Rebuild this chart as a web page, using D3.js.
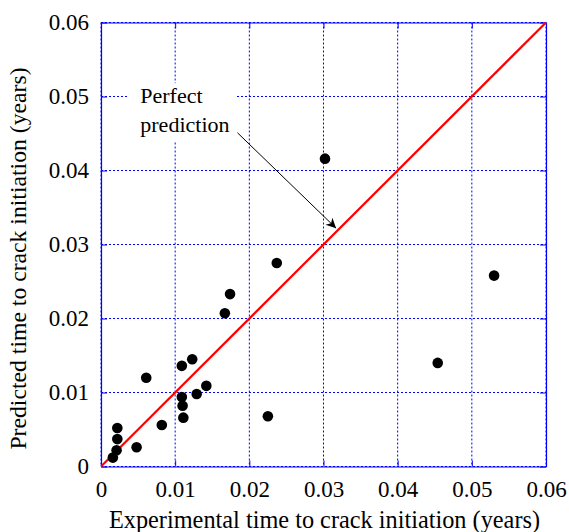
<!DOCTYPE html>
<html><head><meta charset="utf-8">
<script src="https://cdn.jsdelivr.net/npm/d3@7"></script>
<style>
html,body{margin:0;padding:0;background:#fff;}
svg text{font-family:"Liberation Serif","Times New Roman",Times,"Nimbus Roman","DejaVu Serif",serif !important;fill:#000;}
</style></head>
<body><svg id="chart" width="569" height="532"></svg>
<script>
const experimental = [0.0302, 0.0237, 0.0174, 0.0167, 0.0530, 0.0454, 0.0225, 0.0061, 0.0109, 0.0123, 0.0142, 0.0129, 0.0109, 0.0110, 0.0111, 0.0082, 0.0048, 0.0022, 0.0022, 0.0021, 0.0016];
const predicted    = [0.0416, 0.0275, 0.0233, 0.0207, 0.0258, 0.0140, 0.0068, 0.0120, 0.0136, 0.0145, 0.0109, 0.0098, 0.0094, 0.0082, 0.0066, 0.0056, 0.0026, 0.0052, 0.0037, 0.0022, 0.0012];
const xTicks = [0, 0.01, 0.02, 0.03, 0.04, 0.05, 0.06];
const yTicks = [0, 0.01, 0.02, 0.03, 0.04, 0.05, 0.06];
const tickLabels = ["0", "0.01", "0.02", "0.03", "0.04", "0.05", "0.06"];
const perfectLine = [0, 0.06];
const annotationLines = ["Perfect", "prediction"];
const annotationText = [0.0053, 0.0491];
const arrowFrom = [0.0184, 0.0451];
const arrowTo = [0.0317, 0.0322];
const xTitle = "Experimental time to crack initiation (years)";
const yTitle = "Predicted time to crack initiation (years)";

const FONT = '"Liberation Serif","Times New Roman",Times,"Nimbus Roman","DejaVu Serif",serif';
const svg = d3.select("#chart");
const L = 101, T = 22.5, W = 445, H = 444;
const x = d3.scaleLinear().domain([0, 0.06]).range([L, L + W]);
const y = d3.scaleLinear().domain([0, 0.06]).range([T + H, T]);
const blue = "#0000ff";

// grid
const g = svg.append("g");
g.selectAll(".vg").data(xTicks).join("line")
  .attr("x1", d => x(d)).attr("x2", d => x(d)).attr("y1", T).attr("y2", T + H)
  .attr("stroke", blue).attr("stroke-width", 1).attr("stroke-dasharray", "2,2");
g.selectAll(".hg").data(yTicks).join("line")
  .attr("y1", d => y(d)).attr("y2", d => y(d)).attr("x1", L).attr("x2", L + W)
  .attr("stroke", blue).attr("stroke-width", 1).attr("stroke-dasharray", "2,2");

// axes (frame + inward ticks)
const fmt = (d) => tickLabels[xTicks.indexOf(d)];
const axB = svg.append("g").attr("transform", `translate(0,${T + H})`)
  .call(d3.axisBottom(x).tickValues(xTicks).tickFormat(fmt).tickSizeInner(-6).tickSizeOuter(0).tickPadding(14));
const axL = svg.append("g").attr("transform", `translate(${L},0)`)
  .call(d3.axisLeft(y).tickValues(yTicks).tickFormat(fmt).tickSizeInner(-6).tickSizeOuter(0).tickPadding(12));
const axT = svg.append("g").attr("transform", `translate(0,${T})`)
  .call(d3.axisTop(x).tickValues(xTicks).tickFormat("").tickSizeInner(-6).tickSizeOuter(0));
const axR = svg.append("g").attr("transform", `translate(${L + W},0)`)
  .call(d3.axisRight(y).tickValues(yTicks).tickFormat("").tickSizeInner(-6).tickSizeOuter(0));
[axB, axL, axT, axR].forEach(a => {
  a.attr("font-family", FONT);
  a.selectAll("path.domain").attr("stroke", blue).attr("stroke-width", 1.2);
  a.selectAll(".tick line").attr("stroke", blue).attr("stroke-width", 1);
  a.selectAll(".tick text").attr("font-size", 23).style("font-family", FONT).attr("fill", "#000");
});

// annotation box (white background)
const ann = svg.append("g");
ann.append("rect").attr("x", x(annotationText[0]) - 12).attr("y", y(annotationText[1]) - 20)
  .attr("width", 108).attr("height", 58).attr("fill", "#fff");
ann.selectAll("text").data(annotationLines).join("text")
  .attr("x", x(annotationText[0])).attr("y", (d, i) => y(annotationText[1]) + i * 28.5)
  .attr("font-size", 22).style("font-family", FONT).text(d => d);

// perfect prediction line
svg.append("line").attr("x1", x(perfectLine[0])).attr("y1", y(perfectLine[0]))
  .attr("x2", x(perfectLine[1])).attr("y2", y(perfectLine[1]))
  .attr("stroke", "#ff0000").attr("stroke-width", 2.2);

// arrow
svg.append("defs").append("marker").attr("id", "ah").attr("viewBox", "0 0 10 10")
  .attr("refX", 10).attr("refY", 5).attr("markerWidth", 14).attr("markerHeight", 10)
  .attr("markerUnits", "userSpaceOnUse").attr("orient", "auto")
  .append("path").attr("d", "M0,0 L10,5 L0,10 L3,5 Z").attr("fill", "#000");
svg.append("line").attr("x1", x(arrowFrom[0])).attr("y1", y(arrowFrom[1]))
  .attr("x2", x(arrowTo[0])).attr("y2", y(arrowTo[1]))
  .attr("stroke", "#000").attr("stroke-width", 1).attr("marker-end", "url(#ah)");

// points
svg.append("g").selectAll("circle").data(experimental.map((d, i) => [d, predicted[i]])).join("circle")
  .attr("cx", d => x(d[0])).attr("cy", d => y(d[1])).attr("r", 5.3).attr("fill", "#000");

// titles
svg.append("text").attr("x", L + W / 2 + 1).attr("y", 528).attr("text-anchor", "middle")
  .attr("font-size", 24.3).style("font-family", FONT).text(xTitle);
svg.append("text").attr("transform", `translate(26,${T + H / 2 + 14}) rotate(-90)`).attr("text-anchor", "middle")
  .attr("font-size", 23.7).style("font-family", FONT).text(yTitle);
</script></body></html>
